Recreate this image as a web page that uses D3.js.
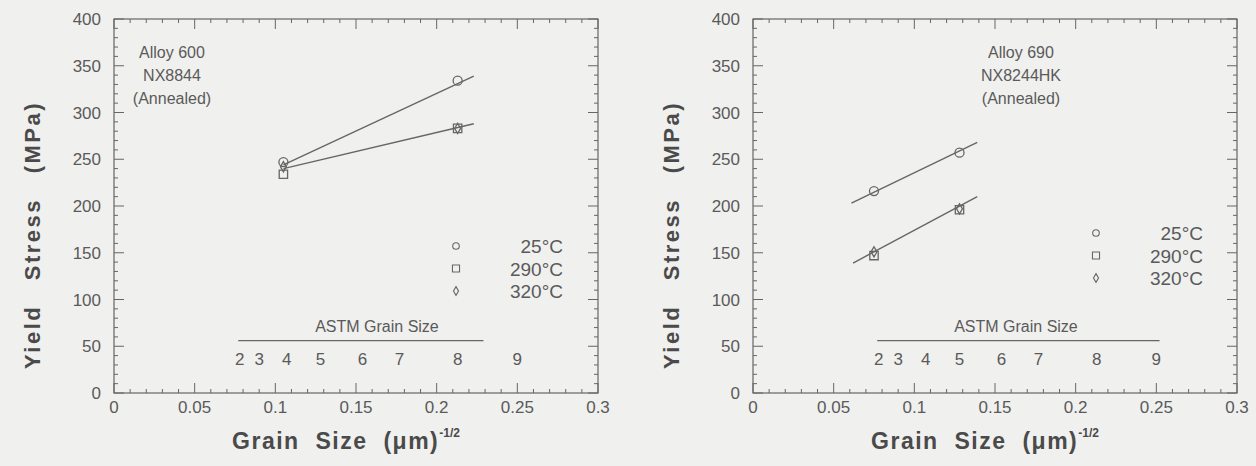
<!DOCTYPE html>
<html>
<head>
<meta charset="utf-8">
<script src="https://cdn.jsdelivr.net/npm/d3@7"></script>
<style>
  body { margin: 0; background: #f0f0ee; }
  svg text { font-family: "Liberation Sans", Arial, sans-serif; fill: #5a5a5a; }
</style>
</head>
<body>
<div id="chart"></div>
<script>
// temperatures / legend
const temps = ["25\u00B0C", "290\u00B0C", "320\u00B0C"];
const symbols = ["circle", "square", "diamond"];

// Alloy 600 (left)
const a600_x = [0.105, 0.213];
const a600_25 = [247, 334];
const a600_290 = [234, 283];
const a600_320 = [242, 283];
const a600_fits = [[0.105, 244, 0.223, 339], [0.105, 240, 0.223, 288]];
const a600_note = ["Alloy 600", "NX8844", "(Annealed)"];

// Alloy 690 (right)
const a690_x = [0.075, 0.128];
const a690_25 = [216, 257];
const a690_290 = [147, 196];
const a690_320 = [151, 197];
const a690_fits = [[0.061, 203, 0.139, 268], [0.062, 139, 0.139, 210]];
const a690_note = ["Alloy 690", "NX8244HK", "(Annealed)"];

// ASTM grain size secondary scale
const astmNums = [2, 3, 4, 5, 6, 7, 8, 9];
const astmPos = [0.078, 0.090, 0.107, 0.128, 0.154, 0.177, 0.213, 0.250];
const astmLineY = 56;

const xTicks = [0, 0.05, 0.1, 0.15, 0.2, 0.25, 0.3];
const yTicks = [0, 50, 100, 150, 200, 250, 300, 350, 400];

const W = 1256, H = 466;
const svg = d3.select("#chart").append("svg")
  .attr("width", W).attr("height", H);

const ink = "#666";

function drawPanel(left, xs, s25, s290, s320, fits, note, noteX, legX, legY, astmEnd) {
  const x = d3.scaleLinear().domain([0, 0.3]).range([left, left + 484]);
  const y = d3.scaleLinear().domain([0, 400]).range([393, 19]);
  const g = svg.append("g");

  // frame
  g.append("rect")
    .attr("x", x(0)).attr("y", y(400))
    .attr("width", x(0.3) - x(0)).attr("height", y(0) - y(400))
    .attr("fill", "none").attr("stroke", ink).attr("stroke-width", 1.2);

  // inward ticks on all four sides
  const xMinor = d3.range(0, 0.3001, 0.01);
  const yMinor = d3.range(0, 400.1, 10);
  xMinor.forEach((v, i) => {
    const len = i % 5 === 0 ? 10 : 4;
    g.append("line").attr("x1", x(v)).attr("x2", x(v))
      .attr("y1", y(0)).attr("y2", y(0) - len).attr("stroke", ink);
    g.append("line").attr("x1", x(v)).attr("x2", x(v))
      .attr("y1", y(400)).attr("y2", y(400) + len).attr("stroke", ink);
  });
  yMinor.forEach((v, i) => {
    const len = i % 5 === 0 ? 10 : 4;
    g.append("line").attr("y1", y(v)).attr("y2", y(v))
      .attr("x1", x(0)).attr("x2", x(0) + len).attr("stroke", ink);
    g.append("line").attr("y1", y(v)).attr("y2", y(v))
      .attr("x1", x(0.3)).attr("x2", x(0.3) - len).attr("stroke", ink);
  });

  // tick labels
  g.selectAll(".xl").data(xTicks).enter().append("text")
    .attr("x", d => x(d)).attr("y", 413)
    .attr("text-anchor", "middle").style("font-size", "17px")
    .text(d => d);
  g.selectAll(".yl").data(yTicks).enter().append("text")
    .attr("x", x(0) - 13).attr("y", d => y(d) + 6)
    .attr("text-anchor", "end").style("font-size", "17px")
    .text(d => d);

  // axis titles
  const xt = g.append("text")
    .attr("x", x(0.15) - 10).attr("y", 449)
    .attr("text-anchor", "middle")
    .style("font-size", "23px").style("font-weight", "bold")
    .style("letter-spacing", "1.5px").style("word-spacing", "8px")
    .style("fill", "#4a4a4a");
  xt.append("tspan").text("Grain Size (\u03BCm)");
  xt.append("tspan").attr("dy", -12).style("font-size", "12px")
    .style("letter-spacing", "0px").text("-1/2");

  g.append("text")
    .attr("transform", `translate(${left - 74},235) rotate(-90)`)
    .attr("text-anchor", "middle")
    .style("font-size", "22px").style("font-weight", "bold")
    .style("letter-spacing", "2.5px").style("word-spacing", "16px")
    .style("fill", "#4a4a4a")
    .text("Yield Stress (MPa)");

  // annotation
  g.selectAll(".note").data(note).enter().append("text")
    .attr("x", noteX).attr("y", (d, i) => 58 + i * 23)
    .attr("text-anchor", "middle").style("font-size", "16px")
    .text(d => d);

  // fit lines
  fits.forEach(f => {
    g.append("line")
      .attr("x1", x(f[0])).attr("y1", y(f[1]))
      .attr("x2", x(f[2])).attr("y2", y(f[3]))
      .attr("stroke", ink).attr("stroke-width", 1.4);
  });

  const sym = {
    circle: d3.symbol(d3.symbolCircle, 64),
    square: d3.symbol(d3.symbolSquare, 70),
    diamond: d3.symbol(d3.symbolDiamond, 30)
  };
  const series = [s25, s290, s320];
  series.forEach((vals, k) => {
    g.selectAll(".pt" + k).data(vals).enter().append("path")
      .attr("d", sym[symbols[k]])
      .attr("transform", (d, i) => `translate(${x(xs[i])},${y(d)})`)
      .attr("fill", "none").attr("stroke", ink).attr("stroke-width", 1.3);
  });

  // legend
  const lsym = {
    circle: d3.symbol(d3.symbolCircle, 34),
    square: d3.symbol(d3.symbolSquare, 50),
    diamond: d3.symbol(d3.symbolDiamond, 22)
  };
  temps.forEach((t, k) => {
    g.append("path").attr("d", lsym[symbols[k]])
      .attr("transform", `translate(${legX},${legY + k * 22.5})`)
      .attr("fill", "none").attr("stroke", ink).attr("stroke-width", 1.1);
    g.append("text").attr("x", legX + 107).attr("y", legY + 7 + k * 22.5)
      .attr("text-anchor", "end").style("font-size", "19px")
      .text(t);
  });

  // ASTM grain size scale
  g.append("line")
    .attr("x1", x(0.077)).attr("x2", x(astmEnd))
    .attr("y1", y(astmLineY)).attr("y2", y(astmLineY))
    .attr("stroke", ink).attr("stroke-width", 1.3);
  g.append("text")
    .attr("x", x(0.163)).attr("y", y(astmLineY) - 9)
    .attr("text-anchor", "middle").style("font-size", "16px")
    .text("ASTM Grain Size");
  g.selectAll(".astm").data(astmNums).enter().append("text")
    .attr("x", (d, i) => x(astmPos[i])).attr("y", y(astmLineY) + 24)
    .attr("text-anchor", "middle").style("font-size", "17px")
    .text(d => d);
}

drawPanel(114, a600_x, a600_25, a600_290, a600_320, a600_fits, a600_note, 172, 456, 246, 0.229);
drawPanel(753, a690_x, a690_25, a690_290, a690_320, a690_fits, a690_note, 1021, 1096, 233, 0.252);
</script>
</body>
</html>
